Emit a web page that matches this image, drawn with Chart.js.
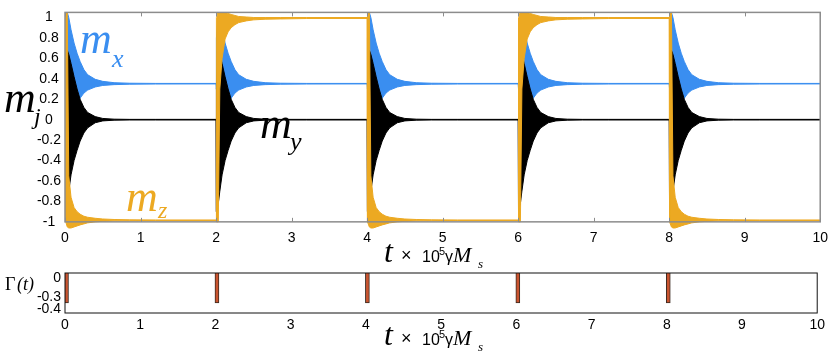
<!DOCTYPE html>
<html>
<head>
<meta charset="utf-8">
<script src="https://cdn.jsdelivr.net/npm/chart.js@4.4.0/dist/chart.umd.min.js"></script>
<style>
  html, body { margin: 0; padding: 0; background: #fff; }
  #wrap { position: relative; width: 829px; height: 355px; }
  canvas { position: absolute; left: 0; }
</style>
</head>
<body>
<div id="wrap">
  <canvas id="topChart" width="829" height="276" style="top:0"></canvas>
  <canvas id="bottomChart" width="829" height="95" style="top:260px"></canvas>
</div>
<script>
// Switching times (units of 10^5 γM_s) and where m_z goes after each switch
const switchTimes = [0, 2, 4, 6, 8];
const mzAfter = ['down', 'up', 'down', 'up', 'down'];

// Time after a switch, and the envelopes of the fast precession
const dt     = [0,     0.01,  0.03,  0.05,  0.08,  0.12,  0.16,  0.2,   0.25,  0.3,   0.4,   0.5,   0.65,  0.85,  1.2,   2.0];
const mxHi   = [0.355, 0.8,   1.05,  1.0,   0.88,  0.75,  0.65,  0.57,  0.49,  0.44,  0.395, 0.375, 0.362, 0.357, 0.355, 0.355];
const mxLo   = [0.35,  0.3,   0.1,   0.0,   0.0,   0.08,  0.16,  0.21,  0.26,  0.29,  0.32,  0.335, 0.343, 0.347, 0.349, 0.35];
const myHi   = [0.003, 0.3,   0.68,  0.64,  0.55,  0.42,  0.3,   0.2,   0.12,  0.07,  0.03,  0.012, 0.005, 0.003, 0.003, 0.003];
const myLo   = [-0.003,-0.9,  -0.82, -0.7,  -0.54, -0.4,  -0.3,  -0.21, -0.13, -0.08, -0.03, -0.012,-0.005,-0.003,-0.003,-0.003];
const mzDnHi = [1.0,   1.06,  1.06,  -0.55, -0.76, -0.86, -0.9,  -0.925,-0.945,-0.955,-0.965,-0.972,-0.977,-0.98, -0.982,-0.982];
const mzDnLo = [0.99,  -1.0,  -1.05, -1.06, -1.06, -1.05, -1.04, -1.03, -1.02, -1.01, -1.0,  -0.995,-0.99, -0.988,-0.986,-0.986];
const mzUpHi = [-0.982,1.0,   1.06,  1.06,  1.06,  1.05,  1.04,  1.03,  1.02,  1.01,  1.005, 1.0,   1.0,   1.0,   1.0,   1.0];
const mzUpLo = [-0.986,-1.0,  -1.0,  0.3,   0.6,   0.79,  0.86,  0.9,   0.93,  0.95,  0.967, 0.977, 0.983, 0.986, 0.99,  0.99];

// Γ(t) pulses
const gammaTimes  = [0.02, 2.02, 4.02, 6.02, 8.02];
const gammaValues = [-0.3, -0.3, -0.3, -0.3, -0.3];

// Tick labels
const xTicks = [0, 1, 2, 3, 4, 5, 6, 7, 8, 9, 10];
const yTicksTop = [-1, -0.8, -0.6, -0.4, -0.2, 0, 0.2, 0.4, 0.6, 0.8, 1];
const yTicksBottom = [0, -0.3, -0.4];

const BLUE = '#3a8ef0';
const ORANGE = '#eca922';
const tickFont = { family: '"Liberation Sans", Arial, sans-serif', size: 14 };

// glue the per-switch envelopes together along t
function buildPoints(pick) {
    const pts = [];
    switchTimes.forEach((t0, i) => {
        const arr = pick(i);
        dt.forEach((d, k) => pts.push({ x: t0 + d, y: arr[k] }));
    });
    return pts;
}

function band(color, hi, lo, extra) {
    return [
        Object.assign({ data: hi, borderColor: color, backgroundColor: color, borderWidth: 1, pointRadius: 0, fill: false }, extra),
        Object.assign({ data: lo, borderColor: color, backgroundColor: color, borderWidth: 1, pointRadius: 0, fill: '-1' }, extra)
    ];
}

function txt(ctx, s, x, y, font, color) {
    ctx.font = font;
    ctx.fillStyle = color;
    ctx.fillText(s, x, y);
}

function axisTitle(ctx, base) {
    ctx.textAlign = 'left';
    ctx.textBaseline = 'alphabetic';
    txt(ctx, 't', 384, base, 'italic 32px "Liberation Serif"', '#000');
    txt(ctx, '×', 401, base - 1, '18px "Liberation Sans"', '#000');
    txt(ctx, '10', 422, base, '16px "Liberation Sans"', '#000');
    txt(ctx, '5', 439, base - 7, '11px "Liberation Sans"', '#000');
    txt(ctx, 'γ', 445, base, '16px "Liberation Sans"', '#000');
    txt(ctx, 'M', 453, base, 'italic 22px "Liberation Serif"', '#000');
    txt(ctx, 's', 478, base + 6, 'italic 13px "Liberation Serif"', '#000');
}

// frame round the plot box with small inward ticks
const framePlugin = {
    id: 'frame',
    afterDraw(chart, args, opts) {
        const { ctx, chartArea: a, scales: { x, y } } = chart;
        const bottom = y.getPixelForValue(opts.bottomValue);
        ctx.save();
        ctx.strokeStyle = opts.color;
        ctx.lineWidth = opts.width;
        ctx.strokeRect(a.left, a.top, a.right - a.left, bottom - a.top);
        if (opts.ticks) {
            ctx.lineWidth = 1;
            ctx.beginPath();
            xTicks.forEach(v => {
                const px = Math.round(x.getPixelForValue(v)) + 0.5;
                ctx.moveTo(px, a.top); ctx.lineTo(px, a.top + 4);
                ctx.moveTo(px, bottom); ctx.lineTo(px, bottom - 4);
            });
            ctx.stroke();
        }
        ctx.restore();
    }
};

const topLabels = {
    id: 'topLabels',
    afterDraw(chart) {
        const ctx = chart.ctx;
        ctx.save();
        ctx.textAlign = 'left';
        ctx.textBaseline = 'alphabetic';
        txt(ctx, 'm', 4, 112, 'italic 44px "Liberation Serif"', '#000');
        txt(ctx, 'j', 34, 124, 'italic 24px "Liberation Serif"', '#000');
        txt(ctx, 'm', 80, 53, 'italic 44px "Liberation Serif"', BLUE);
        txt(ctx, 'x', 112, 67, 'italic 26px "Liberation Serif"', BLUE);
        txt(ctx, 'm', 260, 138, 'italic 44px "Liberation Serif"', '#000');
        txt(ctx, 'y', 290, 150, 'italic 26px "Liberation Serif"', '#000');
        txt(ctx, 'm', 126, 211, 'italic 44px "Liberation Serif"', ORANGE);
        txt(ctx, 'z', 158, 218, 'italic 24px "Liberation Serif"', ORANGE);
        axisTitle(ctx, 262);
        ctx.restore();
    }
};

const bottomLabels = {
    id: 'bottomLabels',
    afterDraw(chart, args, opts) {
        const { ctx, scales: { y } } = chart;
        ctx.save();
        ctx.textAlign = 'right';
        ctx.textBaseline = 'middle';
        yTicksBottom.forEach((v, i) => {
            txt(ctx, String(v), 61, y.getPixelForValue(v) + opts.shift[i], '14px "Liberation Sans"', '#000');
        });
        ctx.textAlign = 'left';
        ctx.textBaseline = 'alphabetic';
        txt(ctx, 'Γ', 5, 30, '18px "Liberation Serif"', '#000');
        txt(ctx, '(t)', 17, 30, 'italic 18px "Liberation Serif"', '#000');
        axisTitle(ctx, 85);
        ctx.restore();
    }
};

const zClip = { left: 0, top: 0, right: 0, bottom: 0 };

const datasets = [].concat(
    band(ORANGE,
        buildPoints(i => mzAfter[i] === 'down' ? mzDnHi : mzUpHi),
        buildPoints(i => mzAfter[i] === 'down' ? mzDnLo : mzUpLo), { clip: zClip }),
    band('#000', buildPoints(() => myHi), buildPoints(() => myLo)),
    band(BLUE, buildPoints(() => mxHi), buildPoints(() => mxLo))
);

new Chart(document.getElementById('topChart'), {
    type: 'line',
    data: { datasets: datasets },
    options: {
        responsive: false,
        animation: false,
        layout: { padding: { top: 5, right: 6, left: 0, bottom: 0 } },
        plugins: {
            legend: { display: false },
            tooltip: { enabled: false },
            frame: { color: '#8c8c8c', width: 1.5, bottomValue: -1, ticks: true }
        },
        scales: {
            x: {
                type: 'linear', min: 0, max: 10,
                afterBuildTicks: s => { s.ticks = xTicks.map(v => ({ value: v })); },
                ticks: { autoSkip: false, maxRotation: 0, padding: 1, color: '#000', font: tickFont },
                grid: { display: false, drawTicks: false },
                border: { display: false },
                afterFit: s => { s.height = 47; }
            },
            y: {
                min: -1.07, max: 1.05,
                afterBuildTicks: s => { s.ticks = yTicksTop.map(v => ({ value: v })); },
                ticks: {
                    autoSkip: false, crossAlign: 'center', padding: 4, color: '#000', font: tickFont,
                    callback: v => String(Math.round(v * 10) / 10)
                },
                grid: { display: false, drawTicks: false },
                border: { display: false },
                afterFit: s => { s.width = 65; }
            }
        }
    },
    plugins: [framePlugin, topLabels]
});

new Chart(document.getElementById('bottomChart'), {
    type: 'bar',
    data: {
        datasets: [{
            data: gammaTimes.map((t, i) => ({ x: t, y: gammaValues[i] })),
            backgroundColor: '#c9542f',
            borderColor: '#3a2a22',
            borderWidth: 1,
            barThickness: 4
        }]
    },
    options: {
        responsive: false,
        animation: false,
        layout: { padding: { top: 13, right: 6, left: 0, bottom: 0 } },
        plugins: {
            legend: { display: false },
            tooltip: { enabled: false },
            frame: { color: '#111', width: 1, bottomValue: -0.4, ticks: false },
            bottomLabels: { shift: [5, -6, -4] }
        },
        scales: {
            x: {
                type: 'linear', min: 0, max: 10, offset: false,
                afterBuildTicks: s => { s.ticks = xTicks.map(v => ({ value: v })); },
                ticks: { autoSkip: false, maxRotation: 0, padding: 4, color: '#000', font: tickFont },
                grid: { display: false, drawTicks: false },
                border: { display: false },
                afterFit: s => { s.height = 42; }
            },
            y: {
                min: -0.4, max: 0,
                ticks: { display: false },
                grid: { display: false, drawTicks: false },
                border: { display: false },
                afterFit: s => { s.width = 65; }
            }
        }
    },
    plugins: [framePlugin, bottomLabels]
});
</script>
</body>
</html>
